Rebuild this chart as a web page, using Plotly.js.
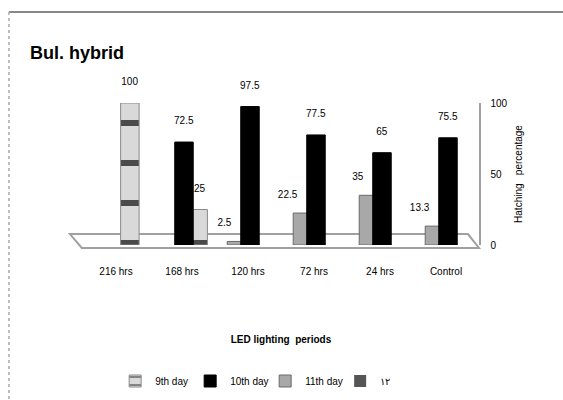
<!DOCTYPE html>
<html>
<head>
<meta charset="utf-8">
<script src="https://cdn.plot.ly/plotly-3.0.1.min.js"></script>
<style>html,body{margin:0;padding:0;background:#fff}#chart{width:563px;height:400px}</style>
</head>
<body>
<div id="chart"></div>
<script>
var categories = ["216 hrs", "168 hrs", "120 hrs", "72 hrs", "24 hrs", "Control"];
var day9 = [100, 25, null, null, null, null];
var day10 = [null, 72.5, 97.5, 77.5, 65, 75.5];
var day11 = [null, null, 2.5, 22.5, 35, 13.3];
var day12 = [null, null, null, null, null, null];
var seriesNames = ["9th day", "10th day", "11th day", "\u0661\u0662"];
var yTicks = [0, 50, 100];

var FONT = "'Liberation Sans', Arial, sans-serif";
var NB = "\u00A0\u00A0\u00A0\u00A0\u00A0\u00A0";

function lbl(v){ return v == null ? "" : String(v) + "<br> "; }
function lblLeft(v){ return v == null ? "" : String(v) + NB + "<br> "; }

var traces = [
  {
    type: "bar", name: seriesNames[2], x: categories, y: day11,
    width: 0.27, offset: -0.315,
    marker: {color: "#a8a8a8", line: {color: "#6a6a6a", width: 1}},
    hoverinfo: "skip", legendrank: 3
  },
  {
    type: "bar", name: seriesNames[0], x: categories, y: day9,
    width: [0.28, 0.23, 0.27, 0.27, 0.27, 0.27],
    offset: [0.07, 0.155, 0, 0, 0, 0],
    marker: {color: "#d6d6d6", line: {color: "#8a8a8a", width: 1},
             pattern: {shape: "-", fgcolor: "#4a4a4a", bgcolor: "#d9d9d9", size: 40, solidity: 0.15}},
    text: day9.map(lbl), textposition: "outside", cliponaxis: false, constraintext: "none",
    textfont: {family: FONT, size: 10, color: "#000"}, hoverinfo: "skip", legendrank: 1
  },
  {
    type: "bar", name: seriesNames[1], x: categories, y: day10,
    width: 0.28, offset: -0.11,
    marker: {color: "#000000", line: {color: "#000", width: 1}},
    text: day10.map(lbl), textposition: "outside", cliponaxis: false, constraintext: "none",
    textfont: {family: FONT, size: 10, color: "#000"}, hoverinfo: "skip", legendrank: 2
  },
  {
    type: "bar", name: seriesNames[3], x: categories, y: day12,
    width: 0.27, offset: 0,
    marker: {color: "#555555"}, hoverinfo: "skip", legendrank: 4
  },
  {
    type: "scatter", mode: "text", x: categories, y: day11,
    text: day11.map(lblLeft), textposition: "top left", cliponaxis: false,
    textfont: {family: FONT, size: 10, color: "#000"},
    showlegend: false, hoverinfo: "skip"
  }
];

var layout = {
  width: 563, height: 400,
  paper_bgcolor: "#fff", plot_bgcolor: "rgba(0,0,0,0)",
  margin: {l: 83, r: 84, t: 103, b: 155, pad: 0},
  barmode: "overlay",
  showlegend: true,
  title: {text: "<b>Bul. hybrid</b>", x: 30/563, xanchor: "left", xref: "container",
          y: 1 - 53/400, yanchor: "middle", yref: "container",
          font: {family: FONT, size: 18, color: "#000"}},
  font: {family: FONT, size: 10, color: "#000"},
  xaxis: {
    type: "category", range: [-0.5, 5.5], showgrid: false, zeroline: false,
    showline: false, ticks: "", ticklabelstandoff: 19,
    tickfont: {family: FONT, size: 10, color: "#000"},
    title: {text: "<b>LED lighting  periods</b>", standoff: 59,
            font: {family: FONT, size: 10, color: "#000"}}
  },
  yaxis: {
    side: "right", range: [0, 100], tickvals: yTicks, showgrid: false,
    zeroline: false, showline: true, linecolor: "#a0a0a0", linewidth: 1.5,
    ticks: "", ticklabelstandoff: 8,
    tickfont: {family: FONT, size: 10, color: "#000"},
    title: {text: "Hatching   percentage", standoff: 8,
            font: {family: FONT, size: 10, color: "#000"}}
  },
  legend: {
    orientation: "h", x: 0.46, xanchor: "center", xref: "paper",
    y: 1 - 381/400, yanchor: "middle", yref: "container",
    font: {family: FONT, size: 10, color: "#000"},
    itemwidth: 30, entrywidth: 30, tracegroupgap: 0, traceorder: "normal",
    bgcolor: "rgba(0,0,0,0)"
  },
  shapes: [
    {type: "path", xref: "paper", yref: "paper", layer: "below",
     path: "M -0.033,0.077 L 0.972,0.077 L 1.0,-0.021 L -0.003,-0.021 Z",
     line: {color: "#a0a0a0", width: 2}, fillcolor: "#fff"},
    {type: "line", xref: "paper", yref: "paper", x0: -0.187, x1: 1.3, y0: 1.641, y1: 1.641,
     line: {color: "#888", width: 2}},
    {type: "line", xref: "paper", yref: "paper", x0: -0.187, x1: -0.187, y0: 1.641, y1: -1.2,
     line: {color: "#aaa", width: 1.5, dash: "dot"}}
  ]
};

Plotly.newPlot("chart", traces, layout, {displayModeBar: false, staticPlot: true});
</script>
</body>
</html>
